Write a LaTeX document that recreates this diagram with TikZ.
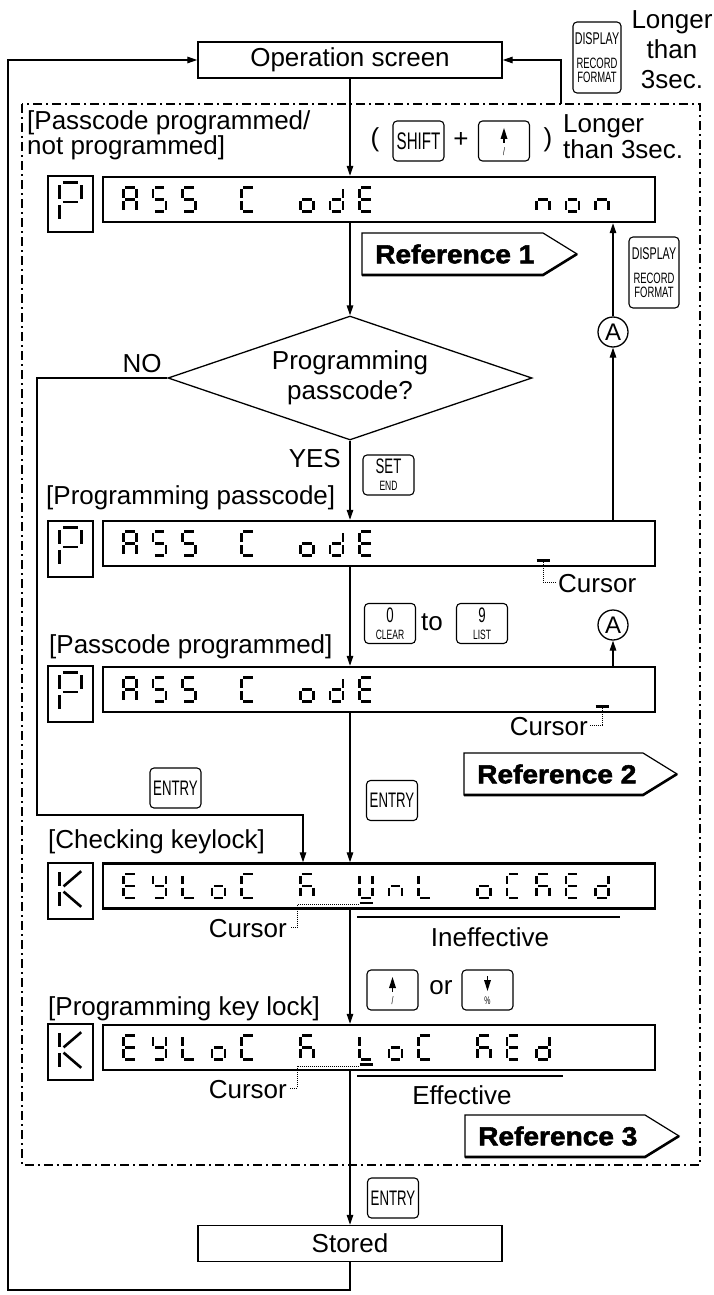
\documentclass[tikz,border=0pt]{standalone}
\usepackage{fontspec}
\setmainfont{Liberation Sans}
\newfontfamily\keyfont[FakeStretch=0.63]{Liberation Sans}
\newfontfamily\heavyfont[BoldFeatures={FakeBold=2,FakeStretch=1.08}]{Liberation Sans}
\usetikzlibrary{arrows.meta,shapes.geometric,calc}

\def\Sega{(-4.6,-12)--(4.6,-12)}
\def\Segb{(6.5,-10.2)--(6.5,-1.8)}
\def\Segc{(6.5,1.8)--(6.5,10.2)}
\def\Segd{(-4.6,12)--(4.6,12)}
\def\Sege{(-6.5,1.8)--(-6.5,10.2)}
\def\Segf{(-6.5,-10.2)--(-6.5,-1.8)}
\def\Segg{(-4.6,0)--(4.6,0)}
\newcommand\sevseg[4][1]{\begin{scope}[shift={(#2,#3)},scale=#1]
 \foreach \s in {#4}{\expandafter\let\expandafter\segpath\csname Seg\s\endcsname \draw[seg] \segpath;}
 \end{scope}}
\newcommand\bigK[2]{\begin{scope}[shift={(#1,#2)},scale=1.65]
 \draw[seg] \Segf; \draw[seg] \Sege;
 \draw[seg] (-4.2,-1.6) -- (6.5,-10.8);
 \draw[seg] (-4.2,1.6) -- (6.5,10.8);
 \end{scope}}

\tikzset{
 lbl/.style={font=\fontsize{26}{26}\selectfont, inner sep=0},
 flowbox/.style={draw, line width=1.4pt, minimum width=304pt, minimum height=36pt, font=\fontsize{26}{26}\selectfont},
 disp/.style={draw, line width=2.4pt, minimum width=552pt, minimum height=45pt},
 lbox/.style={draw, line width=1.3pt, minimum width=45pt, minimum height=56pt},
 key/.style={draw, rounded corners=4pt, line width=1.1pt, minimum width=51pt, minimum height=40pt, inner sep=0, align=center, font=\keyfont},
 twokey/.style={key, font=\keyfont\fontsize{13.5}{17}\selectfont},
 dispkey/.style={key, minimum width=48pt, minimum height=71pt, font=\keyfont\fontsize{15}{13.5}\selectfont},
 circ/.style={draw, circle, line width=1.3pt, minimum size=30pt, inner sep=0, font=\fontsize{24}{24}\selectfont},
 ln/.style={line width=1.3pt},
 arr/.style={ln, -{Triangle[length=10pt,width=6.5pt]}},
 seg/.style={line width=2.6pt},
 curs/.style={line width=2.2pt},
 dots/.style={line width=0.8pt, dash pattern=on 1pt off 1pt},
 frame/.style={line width=1.3pt, dash pattern=on 9pt off 4pt on 2pt off 4pt},
 tagtxt/.style={font=\heavyfont\bfseries\fontsize{26}{26}\selectfont, anchor=west, inner sep=0},
 tagline/.style={line width=1.2pt, line join=miter},
 tagshadow/.style={line width=2.6pt, line join=miter}
}

\begin{document}
\begin{tikzpicture}[x=1pt,y=-1pt]
\useasboundingbox (0,0) rectangle (714,1295);

% ---------- top ----------
\node[flowbox] (op) at (350,60) {Operation screen};
\node[dispkey] (kdisp1) at (597,57.5)
 {{\fontsize{17}{13.5}\selectfont DISPLAY}\\[11pt]RECORD\\FORMAT};
\node[lbl, align=center, font=\fontsize{26}{30}\selectfont] (long1) at (672,50) {Longer\\than\\3sec.};

\draw[frame] (22,104) rectangle (700,1165);
\coordinate (fr) at (561,104);
\draw[arr] (fr) |- (op.east);

\node[lbl, anchor=west, align=left, font=\fontsize{26}{24}\selectfont] (lpp) at (27,135) {[Passcode programmed/\\not programmed]};
\node[lbl] (lpar) at (375,140) {(};
\node[key] (kshift) at (418.5,141) {\fontsize{24}{24}\selectfont SHIFT};
\node[lbl] (plus) at (461,140) {+};
\node[key] (kup1) at (504,141) {};
\fill ($(kup1.center)+(0,-13)$) -- ++(3.5,11) -- ++(-7,0) -- cycle;
\draw[line width=1.6pt] ($(kup1.center)+(0,-2.5)$) -- ++(0,4);
\node[font=\keyfont\fontsize{11}{11}\selectfont, inner sep=0] (kup1s) at ($(kup1.center)+(0,11)$) {/};
\node[lbl] (rpar) at (548,140) {)};
\node[lbl, anchor=west, align=left, font=\fontsize{26}{26}\selectfont] (long2) at (563,137) {Longer\\than 3sec.};

% ---------- row 1 ----------
\node[disp] (d1) at (379,199.5) {};
\node[lbox] (p1) at (70.5,204) {};
\sevseg[1.65]{70.5}{202}{a,b,f,g,e}
\sevseg{130}{199.5}{a,b,c,e,f,g}
\sevseg{159.5}{199.5}{a,f,g,c,d}
\sevseg{189}{199.5}{a,f,g,c,d}
\sevseg{248}{199.5}{a,f,e,d}
\sevseg{307}{199.5}{g,c,d,e}
\sevseg{336.5}{199.5}{b,c,d,e,g}
\sevseg{366}{199.5}{a,f,g,e,d}
\sevseg{543}{199.5}{g,e,c}
\sevseg{572.5}{199.5}{g,c,d,e}
\sevseg{602}{199.5}{g,e,c}
\draw[arr] (op.south) -- (op.south |- d1.north);

% reference 1
\draw[tagline] (362,233) -- (543,233) -- (577,254) -- (543,275) -- (362,275) -- cycle;
\draw[tagshadow] (362,275) -- (543,275) -- (577,254);
\node[tagtxt] (rt1) at (375,254) {Reference 1};

% diamond
\node[diamond, draw, ln, minimum width=364pt, minimum height=124pt, aspect=2.93, inner sep=0, align=center, font=\fontsize{26}{30}\selectfont] (dia) at (350,378) {Programming\\passcode?};
\draw[arr] (d1.south -| op.south) -- (dia.north);
\node[lbl] (nolbl) at (142,364) {NO};
\node[lbl, anchor=east] (yeslbl) at (341,459) {YES};
\node[twokey] (kset) at (388.5,475) {{\fontsize{21}{17}\selectfont SET}\\END};

% right side
\node[circ] (ca1) at (613,332) {A};
\node[dispkey, minimum width=50pt] (kdisp2) at (654,272.5)
 {{\fontsize{17}{13.5}\selectfont DISPLAY}\\[11pt]RECORD\\FORMAT};

% ---------- row 2 ----------
\node[lbl, anchor=west] (lprog) at (46,498) {[Programming passcode]};
\node[disp] (d2) at (379,543.5) {};
\node[lbox] (p2) at (70.5,549) {};
\sevseg[1.65]{70.5}{547}{a,b,f,g,e}
\sevseg{130}{543.5}{a,b,c,e,f,g}
\sevseg{159.5}{543.5}{a,f,g,c,d}
\sevseg{189}{543.5}{a,f,g,c,d}
\sevseg{248}{543.5}{a,f,e,d}
\sevseg{307}{543.5}{g,c,d,e}
\sevseg{336.5}{543.5}{b,c,d,e,g}
\sevseg{366}{543.5}{a,f,g,e,d}
\coordinate (c2a) at (536.5,560.5);
\coordinate (c2b) at (549.5,560.5);
\draw[curs] (c2a) -- (c2b);
\coordinate (c2c) at (543,562);
\coordinate (c2d) at (556,582);
\draw[dots] (c2c) |- (c2d);
\node[lbl, anchor=west] (tc2) at (558,584) {Cursor};
\draw[arr] (dia.south) -- (dia.south |- d2.north);
\draw[arr] (d2.north -| ca1) -- (ca1.south);
\draw[arr] (ca1.north) -- (ca1.north |- d1.south);

% ---------- row 3 ----------
\node[twokey] (k0) at (390,623.5) {{\fontsize{21}{17}\selectfont 0}\\CLEAR};
\node[lbl] (tolbl) at (432,622) {to};
\node[twokey] (k9) at (482,623.5) {{\fontsize{21}{17}\selectfont 9}\\LIST};
\node[circ] (ca2) at (613,625) {A};
\node[lbl, anchor=west] (lpc) at (49,647) {[Passcode programmed]};
\node[disp] (d3) at (379,689.5) {};
\node[lbox] (p3) at (70.5,694) {};
\sevseg[1.65]{70.5}{692}{a,b,f,g,e}
\sevseg{130}{689.5}{a,b,c,e,f,g}
\sevseg{159.5}{689.5}{a,f,g,c,d}
\sevseg{189}{689.5}{a,f,g,c,d}
\sevseg{248}{689.5}{a,f,e,d}
\sevseg{307}{689.5}{g,c,d,e}
\sevseg{336.5}{689.5}{b,c,d,e,g}
\sevseg{366}{689.5}{a,f,g,e,d}
\coordinate (c3a) at (595.5,706.5);
\coordinate (c3b) at (608.5,706.5);
\draw[curs] (c3a) -- (c3b);
\coordinate (c3c) at (602,708);
\coordinate (c3d) at (590,725);
\draw[dots] (c3c) |- (c3d);
\node[lbl, anchor=east] (tc3) at (588,727) {Cursor};
\draw[arr] (d2.south -| op.south) -- (op.south |- d3.north);
\draw[arr] (d3.north -| ca2) -- (ca2.south);

% reference 2
\draw[tagline] (464,753) -- (643,753) -- (677,774) -- (643,795) -- (464,795) -- cycle;
\draw[tagshadow] (464,795) -- (643,795) -- (677,774);
\node[tagtxt] (rt2) at (477,774) {Reference 2};

\node[key] (ke1) at (175.5,788) {\fontsize{21}{21}\selectfont ENTRY};
\node[key] (ke2) at (392,800.5) {\fontsize{21}{21}\selectfont ENTRY};

% NO path
\coordinate (no1) at (37,815);
\coordinate (no2) at (303,815);

% ---------- row 4 ----------
\node[lbl, anchor=west] (lck) at (48,842) {[Checking keylock]};
\node[disp] (d4) at (379,886) {};
\node[lbox] (k4) at (70.5,891) {};
\bigK{70.5}{889}
\sevseg{130}{886}{a,f,g,e,d}
\sevseg{159.5}{886}{f,b,g,c,d}
\sevseg{189}{886}{f,e,d}
\sevseg{218.5}{886}{g,c,d,e}
\sevseg{248}{886}{a,f,e,d}
\sevseg{307}{886}{a,f,e,g,c}
\sevseg{366}{886}{b,c,d,e,f}
\sevseg{395.5}{886}{g,e,c}
\sevseg{425}{886}{f,e,d}
\sevseg{484}{886}{g,c,d,e}
\sevseg{513.5}{886}{a,f,e,d}
\sevseg{543}{886}{a,f,e,g,c}
\sevseg{572.5}{886}{a,f,g,e,d}
\sevseg{602}{886}{b,c,d,e,g}
\coordinate (u4a) at (359.5,903);
\coordinate (u4b) at (372.5,903);
\draw[curs] (u4a) -- (u4b);
\coordinate (c4a) at (359,904.5);
\coordinate (c4b) at (297,904.5);
\coordinate (c4c) at (297,927);
\coordinate (c4d) at (290,927);
\draw[dots] (c4a) -- (c4b) -- (c4c) -- (c4d);
\node[lbl, anchor=east] (tc4) at (287,929) {Cursor};
\coordinate (ie1) at (357,917);
\coordinate (ie2) at (620,917);
\draw[ln] (ie1) -- (ie2);
\node[lbl] (tie) at (490,937) {Ineffective};
\draw[arr] (dia.west) -| (no1) -- (no2) -- (no2 |- d4.north);
\draw[arr] (d3.south -| op.south) -- (op.south |- d4.north);

% keys up/down
\node[key] (kup2) at (392.5,990) {};
\fill ($(kup2.center)+(0,-13)$) -- ++(3.5,11) -- ++(-7,0) -- cycle;
\draw[line width=1.6pt] ($(kup2.center)+(0,-2.5)$) -- ++(0,4);
\node[font=\keyfont\fontsize{11}{11}\selectfont, inner sep=0] (kup2s) at ($(kup2.center)+(0,11)$) {/};
\node[lbl] (orlbl) at (441,988) {or};
\node[key] (kdn) at (487.5,990) {};
\draw[line width=1.6pt] ($(kdn.center)+(0,-14)$) -- ++(0,4);
\fill ($(kdn.center)+(0,1)$) -- ++(3.5,-11) -- ++(-7,0) -- cycle;
\node[font=\keyfont\fontsize{11}{11}\selectfont, inner sep=0] (kdns) at ($(kdn.center)+(0,11)$) {\%};

% ---------- row 5 ----------
\node[lbl, anchor=west] (lpk) at (48,1009) {[Programming key lock]};
\node[disp] (d5) at (379,1047.5) {};
\node[lbox] (k5) at (70.5,1052) {};
\bigK{70.5}{1050}
\sevseg{130}{1047.5}{a,f,g,e,d}
\sevseg{159.5}{1047.5}{f,b,g,c,d}
\sevseg{189}{1047.5}{f,e,d}
\sevseg{218.5}{1047.5}{g,c,d,e}
\sevseg{248}{1047.5}{a,f,e,d}
\sevseg{307}{1047.5}{a,f,e,g,c}
\sevseg{366}{1047.5}{f,e,d}
\sevseg{395.5}{1047.5}{g,c,d,e}
\sevseg{425}{1047.5}{a,f,e,d}
\sevseg{484}{1047.5}{a,f,e,g,c}
\sevseg{513.5}{1047.5}{a,f,g,e,d}
\sevseg{543}{1047.5}{b,c,d,e,g}
\coordinate (u5a) at (359.5,1064.5);
\coordinate (u5b) at (372.5,1064.5);
\draw[curs] (u5a) -- (u5b);
\coordinate (c5a) at (359,1066);
\coordinate (c5b) at (297,1066);
\coordinate (c5c) at (297,1088);
\coordinate (c5d) at (290,1088);
\draw[dots] (c5a) -- (c5b) -- (c5c) -- (c5d);
\node[lbl, anchor=east] (tc5) at (287,1090) {Cursor};
\coordinate (ef1) at (357,1076);
\coordinate (ef2) at (563,1076);
\draw[ln] (ef1) -- (ef2);
\node[lbl] (tef) at (462,1095) {Effective};
\draw[arr] (d4.south -| op.south) -- (op.south |- d5.north);

% reference 3
\draw[tagline] (465,1115) -- (645,1115) -- (679,1136) -- (645,1157) -- (465,1157) -- cycle;
\draw[tagshadow] (465,1157) -- (645,1157) -- (679,1136);
\node[tagtxt] (rt3) at (478,1136) {Reference 3};

% ---------- bottom ----------
\node[key] (ke3) at (393,1198) {\fontsize{21}{21}\selectfont ENTRY};
\node[flowbox] (st) at (350,1243.5) {Stored};
\draw[arr] (d5.south -| op.south) -- (st.north);
\coordinate (loopb) at (8,1290);
\draw[arr] (st.south) |- (loopb) |- (op.west);
\end{tikzpicture}
\end{document}
